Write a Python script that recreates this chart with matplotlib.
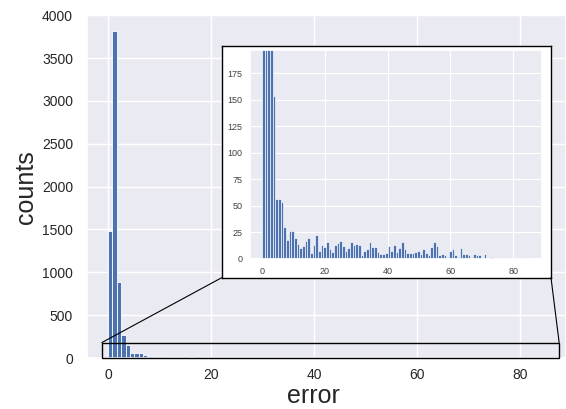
import matplotlib
matplotlib.use("Agg")
import numpy as np
import matplotlib.pyplot as plt
import seaborn as sns
from matplotlib.patches import Rectangle, ConnectionPatch

# histogram counts, one per bin (bins start at 0)
counts = [
    1480, 3820, 890, 270, 154,
    57, 57, 54, 30, 18, 26, 26, 20, 14, 10, 12, 17, 20, 6, 13, 23, 8, 13, 11, 16,
    9, 7, 13, 15, 17, 12, 8, 10, 16, 13, 14,
    13, 4, 8, 9, 16, 11, 11, 7, 5, 5, 6, 12, 8, 13, 7, 10, 16, 9, 6, 6, 6, 7, 8,
    5, 9, 6, 4, 11, 16, 12, 4, 5, 4, 1, 8, 9,
    4, 2, 10, 5, 5, 4, 1, 5, 4, 4, 0, 5, 1, 2, 2, 0, 1, 0, 1, 0, 1, 0, 0, 1, 0, 1, 0, 1,
]
BIN_WIDTH = 0.85

main_xticks = [0, 20, 40, 60, 80]
main_yticks = [0, 500, 1000, 1500, 2000, 2500, 3000, 3500, 4000]
inset_xticks = [0, 20, 40, 60, 80]
inset_yticks = [0, 25, 50, 75, 100, 125, 150, 175]

# zoomed region marked on the main axes
zoom_x = (-1.2, 87.6)
zoom_y = (0, 180)

sns.set_theme(style="darkgrid")
plt.rcParams["font.family"] = ["Liberation Sans", "DejaVu Sans"]

W, H = 566, 409
fig = plt.figure(figsize=(W / 100, H / 100), dpi=100)

edges = np.arange(len(counts)) * BIN_WIDTH
bar_color = "#4C72B0"

# --- main axes ---
ax = fig.add_axes([87 / W, (H - 358) / H, (W - 87) / W, (358 - 15.3) / H])
ax.bar(edges, counts, width=BIN_WIDTH, align="edge", color=bar_color,
       edgecolor="white", linewidth=0.6)
ax.set_xlim(-4.08, 88.93)
ax.set_ylim(0, 4000)
ax.set_xticks(main_xticks)
ax.set_yticks(main_yticks)
ax.tick_params(labelsize=10, length=0, colors=".15")
ax.tick_params(axis="x", pad=7.5)
ax.tick_params(axis="y", pad=10)
ax.set_xlabel("error", fontsize=18, color=".15")
ax.set_ylabel("counts", fontsize=18, color=".15")
ax.xaxis.set_label_coords((313 - 87) / (W - 87), -0.076)
ax.yaxis.set_label_coords((38 - 87) / (W - 87), 0.5)

ax.add_patch(Rectangle((zoom_x[0], zoom_y[0]), zoom_x[1] - zoom_x[0], zoom_y[1] - zoom_y[0],
                       fill=False, edgecolor="black", linewidth=1.0, clip_on=False, zorder=3))

# --- white frame holding the zoomed plot ---
frame = fig.add_axes([221.7 / W, (H - 277.7) / H, (551 - 221.7) / W, (277.7 - 45.7) / H])
frame.set_facecolor("white")
frame.grid(False)
frame.set_xticks([])
frame.set_yticks([])
for sp in frame.spines.values():
    sp.set_visible(True)
    sp.set_edgecolor("black")
    sp.set_linewidth(1.0)

# --- inset (zoomed) axes ---
ins = fig.add_axes([250 / W, (H - 259) / H, (541.7 - 250) / W, (259 - 50) / H])
ins.bar(edges, counts, width=BIN_WIDTH, align="edge", color=bar_color,
        edgecolor="white", linewidth=0.45)
ins.set_xlim(-3.82, 89.03)
ins.set_ylim(0, 197)
ins.set_xticks(inset_xticks)
ins.set_yticks(inset_yticks)
ins.tick_params(labelsize=6.5, length=0, pad=5.5, colors=".25")
ins.grid(color="white", linewidth=0.8)

# connector lines from the marked region to the frame
for xa, xb in [(zoom_x[0], 0), (zoom_x[1], 1)]:
    con = ConnectionPatch(xyA=(xa, zoom_y[1]), coordsA=ax.transData,
                          xyB=(xb, 0), coordsB=frame.transAxes,
                          color="black", linewidth=0.8)
    fig.add_artist(con)

fig.savefig("out.png", dpi=100)
